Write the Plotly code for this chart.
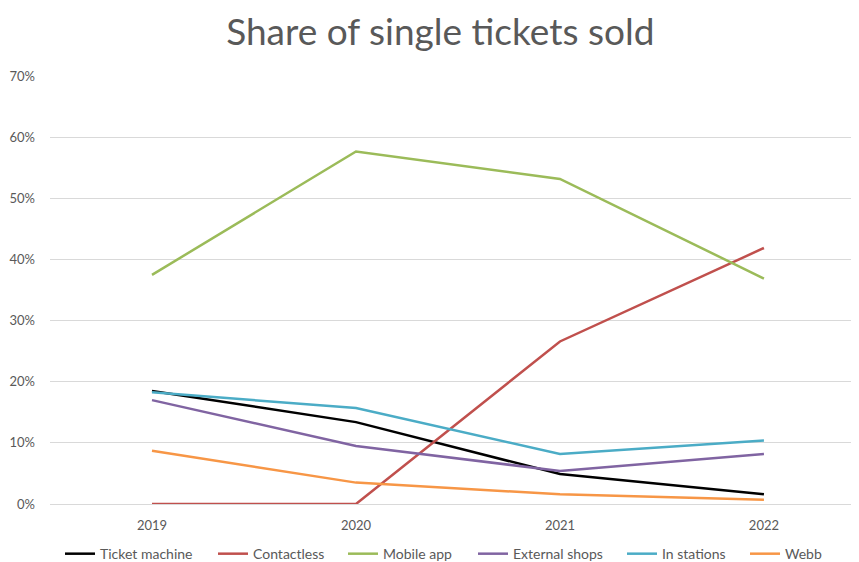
import plotly.graph_objects as go

years = ["2019", "2020", "2021", "2022"]
ticket_machine = [0.185, 0.134, 0.049, 0.016]
contactless = [0.0, 0.0, 0.266, 0.419]
mobile_app = [0.375, 0.577, 0.532, 0.369]
external_shops = [0.170, 0.095, 0.054, 0.082]
in_stations = [0.183, 0.157, 0.082, 0.104]
webb = [0.087, 0.035, 0.016, 0.007]

series = [
    ("Ticket machine", ticket_machine, "#000000"),
    ("Contactless", contactless, "#C0504D"),
    ("Mobile app", mobile_app, "#9BBB59"),
    ("External shops", external_shops, "#8064A2"),
    ("In stations", in_stations, "#4BACC6"),
    ("Webb", webb, "#F79646"),
]
legend_left_px = [52, 205, 335, 465, 614, 737]

W, H = 851, 554
fig = go.Figure()
legends = {}
for i, (name, vals, color) in enumerate(series):
    key = "legend" if i == 0 else f"legend{i + 1}"
    fig.add_trace(go.Scatter(x=years, y=vals, mode="lines", name=name,
                             legend=key, line=dict(color=color, width=2.5)))
    legends[key] = dict(orientation="h", xref="container",
                        x=legend_left_px[i] / W, xanchor="left",
                        y=-0.117, yanchor="middle", bgcolor="rgba(0,0,0,0)",
                        font=dict(size=14, color="#595959"))

fig.update_layout(
    width=W, height=H,
    margin=dict(l=42, r=0, t=68, b=58, autoexpand=False),
    paper_bgcolor="white", plot_bgcolor="white",
    font=dict(family="Lato, Open Sans, sans-serif", color="#595959", size=13),
    title=dict(text="Share of single tickets sold", x=0.508, xanchor="center",
               y=0.9567, yanchor="middle",
               font=dict(size=37, color="#595959", family="Lato, sans-serif")),
    showlegend=True,
    xaxis=dict(type="category", range=[-0.5, 3.466], showgrid=False,
               showline=False, ticks="", ticklabelstandoff=12, automargin=False,
               tickfont=dict(size=13, color="#595959")),
    yaxis=dict(range=[0, 0.7005], dtick=0.1, tickformat=".0%", showgrid=True,
               gridcolor="#D9D9D9", gridwidth=1, zeroline=True,
               zerolinecolor="#D9D9D9", zerolinewidth=1, showline=False,
               ticks="", ticklabelstandoff=14, automargin=False,
               tickfont=dict(size=13, color="#595959")),
    **legends,
)

fig.write_html("out.html")
